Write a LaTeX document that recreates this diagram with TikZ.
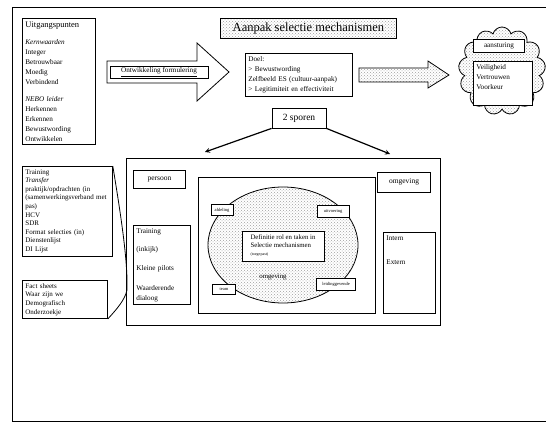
\documentclass[tikz,border=0pt]{standalone}
\usepackage{fontspec}
\setmainfont{Liberation Serif}
\usetikzlibrary{shapes.geometric,shapes.symbols,patterns}
\tikzset{
  kader/.style={draw,rectangle,inner sep=2pt,font=\fontsize{7.2}{10}\selectfont},
  lijst/.style={kader,anchor=north west,align=left,inner sep=3pt},
  stip/.style={pattern=crosshatch dots,pattern color=gray!75},
  klein/.style={draw,fill=white,inner sep=1.5pt,font=\fontsize{4.5}{5}\selectfont},
  pijl/.style={-stealth,line width=1.2pt}
}
\begin{document}
\begin{tikzpicture}[x=1pt,y=-1pt,line width=0.8pt]
\useasboundingbox (0,0) rectangle (546,425);
% kader rond alles
\draw (546,7) -- (12,7) -- (12,421) -- (546,421);

% bovenste rij
\node[kader,stip,anchor=north west,minimum width=176pt,minimum height=20pt,font=\fontsize{12.5}{13}\selectfont] (titel) at (220,18) {Aanpak selectie mechanismen};
\node[lijst,text width=67pt] (uitg) at (22,18) {{\fontsize{8.5}{10}\selectfont Uitgangspunten}\\[7pt]
  \textit{Kernwaarden}\\Integer\\Betrouwbaar\\Moedig\\Verbindend\\[7pt]
  \textit{NEBO leider}\\Herkennen\\Erkennen\\Bewustwording\\Ontwikkelen};
\draw (107,61) -- (197,61) -- (197,43) -- (229,72) -- (197,101) -- (197,83) -- (107,83) -- cycle;
\node[kader,minimum width=98pt,minimum height=12pt,inner sep=1pt] (ontw) at (159,72) {\underline{Ontwikkeling formulering}};
\node[lijst,text width=101pt] (doel) at (245,53) {Doel:\\> Bewustwording\\Zelfbeeld ES (cultuur-aanpak)\\> Legitimiteit en effectiviteit};
\draw[stip] (359,68) -- (428,68) -- (428,61) -- (449,75) -- (428,88) -- (428,82) -- (359,82) -- cycle;
\node[cloud,draw,stip,cloud puffs=13,cloud ignores aspect,minimum width=87pt,minimum height=88pt] (wolk) at (502,71) {};
\node[kader,fill=white,minimum width=51pt,minimum height=13pt] (aanst) at (499,46) {aansturing};
\node[lijst,fill=white,text width=53pt] (waarden) at (473,61) {Veiligheid\\Vertrouwen\\Voorkeur\\[3pt]\mbox{}};

% twee sporen
\node[kader,minimum width=54pt,minimum height=20pt,font=\fontsize{9.5}{10}\selectfont] (sporen) at (299,118) {2 sporen};
\coordinate (links) at (205,152);
\coordinate (rechts) at (390,154);
\draw[pijl] (sporen.south west) -- (links);
\draw[pijl] (sporen.south east) -- (rechts);

% linker kolom
\node[lijst,text width=84pt,font=\fontsize{7}{8.6}\selectfont] (middelen) at (22,166) {Training\\\textit{Transfer}\\praktijk/opdrachten (in\\(samenwerkingsverband met\\pas)\\HCV\\SDR\\Format selecties (in)\\Dienstenlijst\\DI Lijst};
\node[lijst,text width=79pt,font=\fontsize{7}{8.6}\selectfont] (feiten) at (22,280) {Fact sheets\\Waar zijn we\\Demografisch\\Onderzoekje};
\coordinate (punt) at (127,290);
\draw (middelen.north east) .. controls (120,210) and (128,260) .. (punt) .. controls (125,300) and (116,310) .. (feiten.south east);

% groot kader
\node[draw,anchor=north west,minimum width=314pt,minimum height=167pt] (groot) at (126,158) {};
\node[kader,anchor=north west,minimum width=52pt,minimum height=18pt,font=\fontsize{7.5}{9}\selectfont] (persoon) at (133,170) {persoon};
\node[lijst,text width=51pt] (acties) at (133,225) {Training\\[8pt](inkijk)\\[9pt]Kleine pilots\\[10pt]Waarderende\\dialoog};
\node[draw,anchor=north west,minimum width=177pt,minimum height=136pt] (binnen) at (198,177) {};
\node[ellipse,draw,stip,minimum width=150pt,minimum height=116pt] (kern) at (283,245) {};
\node[kader,fill=white,align=left,minimum width=82pt,minimum height=30pt,font=\fontsize{6.8}{8}\selectfont] (def) at (283,246) {Definitie rol en taken in\\Selectie mechanismen\\{\fontsize{4}{5}\selectfont (toegepast)}};
\node[font=\fontsize{6.8}{8}\selectfont] (omg) at (273,277) {omgeving};
\node[klein,minimum width=22pt,minimum height=11pt] (b1) at (222,210) {afdeling};
\node[klein,minimum width=32pt,minimum height=12pt] (b2) at (333,211) {uitvoering};
\node[klein,minimum width=23pt,minimum height=10pt] (b3) at (224,289) {team};
\node[klein,minimum width=39pt,minimum height=12pt] (b4) at (336,284) {leidinggevende};
\node[kader,minimum width=53pt,minimum height=20pt,font=\fontsize{7.5}{9}\selectfont] (omgev) at (404,182) {omgeving};
\node[lijst,text width=46pt] (extern) at (383,232) {Intern\\[14pt]Extern\\[36pt]\mbox{}};
\end{tikzpicture}
\end{document}
